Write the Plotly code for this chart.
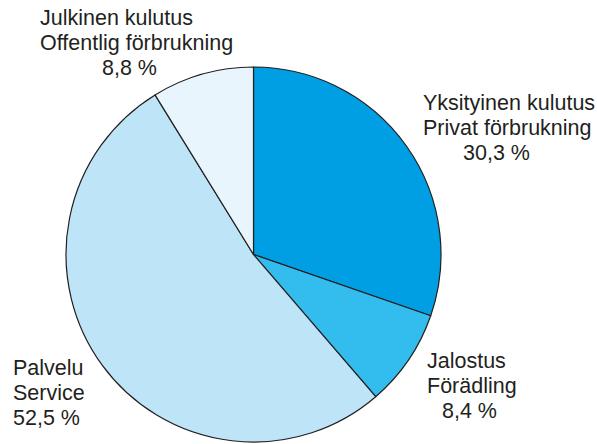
import plotly.graph_objects as go

# Data
labels_fi = ["Yksityinen kulutus", "Jalostus", "Palvelu", "Julkinen kulutus"]
labels_sv = ["Privat förbrukning", "Förädling", "Service", "Offentlig förbrukning"]
shares = [30.3, 8.4, 52.5, 8.8]
share_text = ["30,3 %", "8,4 %", "52,5 %", "8,8 %"]
colors = ["#009fe3", "#33bcee", "#bde4f7", "#e9f5fc"]

W, H = 597, 444

fig = go.Figure(go.Pie(
    labels=labels_fi,
    values=shares,
    sort=False,
    direction="clockwise",
    rotation=0,
    marker=dict(colors=colors, line=dict(color="#231f20", width=1.2)),
    textinfo="none",
    hoverinfo="none",
    showlegend=False,
    domain=dict(x=[65.5 / W, 441.5 / W], y=[1 - 442 / H, 1 - 67 / H]),
))

# label line layout (pixel positions: left x of each line, cap-top y of first line)
label_pos = {
    0: ([421, 421, 461], 95),
    1: ([425, 425, 440], 353),
    2: ([11, 11, 11], 360),
    3: ([38, 38, 100], 10),
}
line_step = 25

annotations = []
for i in range(len(shares)):
    lines = [labels_fi[i], labels_sv[i], share_text[i]]
    xs, ytop = label_pos[i]
    for j, t in enumerate(lines):
        ymid = ytop + j * line_step + 8
        annotations.append(dict(
            text=t, x=xs[j] / W, y=1 - ymid / H, xref="paper", yref="paper",
            xanchor="left", yanchor="middle", showarrow=False,
            font=dict(family="Liberation Sans, Arial, sans-serif", size=21.5, color="#231f20"),
        ))

fig.update_layout(
    width=W, height=H,
    margin=dict(l=0, r=0, t=0, b=0),
    paper_bgcolor="white", plot_bgcolor="white",
    annotations=annotations,
)

fig.write_html(
    "out.html",
    config={"displayModeBar": False},
    post_script="document.body.style.margin='0';document.body.style.padding='0';",
)
